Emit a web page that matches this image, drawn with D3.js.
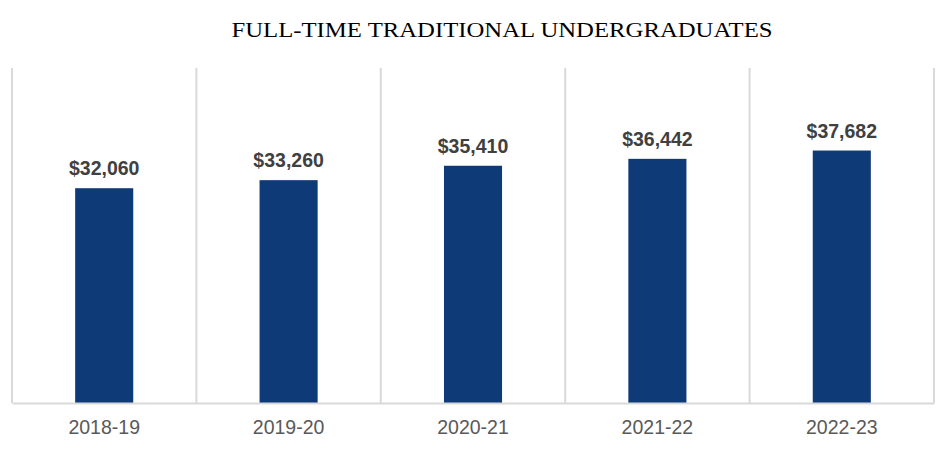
<!DOCTYPE html>
<html>
<head>
<meta charset="utf-8">
<script src="https://cdn.jsdelivr.net/npm/d3@7"></script>
<style>
  body { margin: 0; background: #fff; }
</style>
</head>
<body>
<script>
// values
const years = ["2018-19", "2019-20", "2020-21", "2021-22", "2022-23"]
const cost = [32060, 33260, 35410, 36442, 37682]
const title = "FULL-TIME TRADITIONAL UNDERGRADUATES"

const W = 948, H = 457
const margin = {top: 68, right: 14, bottom: 54, left: 12}
const width = W - margin.left - margin.right
const height = H - margin.top - margin.bottom

let svg = d3.select("body").append("svg")
  .attr("width", W)
  .attr("height", H)

// title font in the original is wider than Liberation Serif, so stretch glyphs to fit
svg.append("text")
  .attr("x", 502)
  .attr("y", 37)
  .attr("text-anchor", "middle")
  .attr("font-family", "'Liberation Serif', 'Times New Roman', serif")
  .attr("font-size", "22px")
  .attr("textLength", 541)
  .attr("lengthAdjust", "spacingAndGlyphs")
  .attr("fill", "#000")
  .text(title)

let g = svg.append("g").attr("transform", "translate(" + margin.left + "," + margin.top + ")")

let x = d3.scaleBand()
  .domain(years)
  .range([0, width])
  .padding(0)

let y = d3.scaleLinear()
  .domain([0, 50000])
  .range([height, 0])

// category separators (left edge of each band plus right edge)
let edges = years.map(d => x(d)).concat([width])
g.selectAll(".sep")
  .data(edges)
  .enter().append("line")
    .attr("class", "sep")
    .attr("x1", d => d).attr("x2", d => d)
    .attr("y1", 0).attr("y2", height)
    .attr("stroke", "#d9d9d9")
    .attr("stroke-width", 2)

const barW = x.bandwidth() * 0.315
g.selectAll(".bar")
  .data(cost)
  .enter().append("rect")
    .attr("class", "bar")
    .attr("x", (d, i) => x(years[i]) + x.bandwidth() / 2 - barW / 2)
    .attr("y", d => y(d))
    .attr("width", barW)
    .attr("height", d => height - y(d))
    .attr("fill", "#0f3a78")

g.selectAll(".lbl")
  .data(cost)
  .enter().append("text")
    .attr("class", "lbl")
    .attr("x", (d, i) => x(years[i]) + x.bandwidth() / 2)
    .attr("y", d => y(d) - 13)
    .attr("text-anchor", "middle")
    .attr("font-family", "'Liberation Sans', Arial, sans-serif")
    .attr("font-weight", "bold")
    .attr("font-size", "19.5px")
    .attr("fill", "#404040")
    .text(d => "$" + d3.format(",")(d))

let xAxis = g.append("g")
  .attr("transform", "translate(0," + height + ")")
  .call(d3.axisBottom(x).tickSize(0).tickPadding(17))
xAxis.select(".domain").attr("stroke", "#d9d9d9").attr("stroke-width", 2)
xAxis.selectAll("text")
  .attr("font-family", "'Liberation Sans', Arial, sans-serif")
  .attr("font-size", "19.5px")
  .attr("fill", "#595959")
</script>
</body>
</html>
